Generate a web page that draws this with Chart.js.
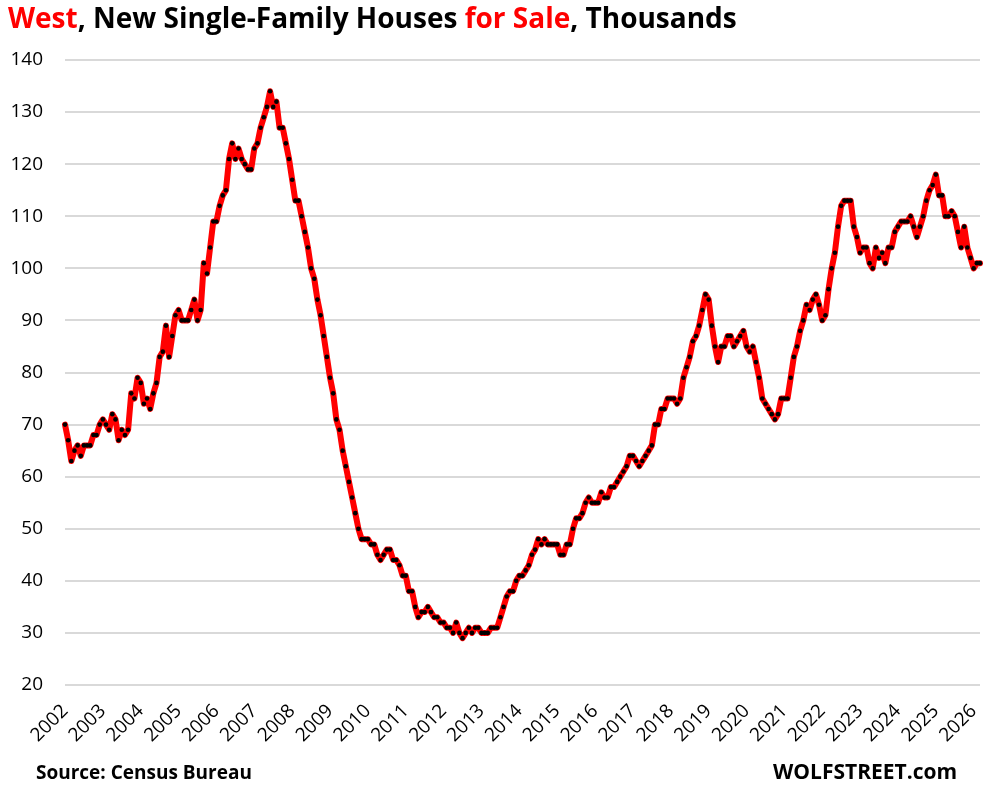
<!DOCTYPE html>
<html>
<head>
<meta charset="utf-8">
<script src="https://cdn.jsdelivr.net/npm/chart.js@4/dist/chart.umd.min.js"></script>
<style>
  html, body { margin: 0; padding: 0; background: #fff; }
  #wrap { position: relative; width: 995px; height: 801px; overflow: hidden; background: #fff; }
  #c { position: absolute; left: 0; top: 0; }
  .txt { position: absolute; font-family: "Open Sans", "DejaVu Sans", sans-serif; font-weight: 700; color: #000; white-space: nowrap; }
  #title { left: 8px; top: 3px; font-size: 28px; line-height: 28px; }
  #title .red { color: #ff0000; }
  #source { left: 36px; top: 763px; font-size: 19px; line-height: 19px; }
  #brand { left: 773px; top: 761px; font-size: 21px; line-height: 21px; }
</style>
</head>
<body>
<div id="wrap">
  <canvas id="c" width="995" height="801"></canvas>
  <div class="txt" id="title"><span class="red">West</span>, New Single-Family Houses <span class="red">for Sale</span>, Thousands</div>
  <div class="txt" id="source">Source: Census Bureau</div>
  <div class="txt" id="brand">WOLFSTREET.com</div>
</div>
<script>
// Tick labels (January of each year)
const yearLabels = ['2002','2003','2004','2005','2006','2007','2008','2009','2010','2011','2012','2013',
  '2014','2015','2016','2017','2018','2019','2020','2021','2022','2023','2024','2025','2026'];
const monthNames = ['01','02','03','04','05','06','07','08','09','10','11','12'];

// West, new single-family houses for sale, thousands (monthly, Jan 2002 - Mar 2026)
const westForSale = [
  70,67,63,65,66,64,66,66,66,68,68,70,          // 2002
  71,70,69,72,71,67,69,68,69,76,75,79,          // 2003
  78,74,75,73,76,78,83,84,89,83,87,91,          // 2004
  92,90,90,90,92,94,90,92,101,99,104,109,       // 2005
  109,112,114,115,121,124,121,123,121,120,119,119, // 2006
  123,124,127,129,131,134,131,132,127,127,124,121, // 2007
  117,113,113,110,107,104,100,98,94,91,87,83,   // 2008
  79,76,71,69,65,62,59,56,53,50,48,48,          // 2009
  48,47,47,45,44,45,46,46,44,44,43,41,          // 2010
  41,38,38,35,33,34,34,35,34,33,33,32,          // 2011
  32,31,31,30,32,30,29,30,31,30,31,31,          // 2012
  30,30,30,31,31,31,33,35,37,38,38,40,          // 2013
  41,41,42,43,45,46,48,47,48,47,47,47,          // 2014
  47,45,45,47,47,50,52,52,53,55,56,55,          // 2015
  55,55,57,56,56,58,58,59,60,61,62,64,          // 2016
  64,63,62,63,64,65,66,70,70,73,73,75,          // 2017
  75,75,74,75,79,81,83,86,87,89,92,95,          // 2018
  94,89,85,82,85,85,87,87,85,86,87,88,          // 2019
  85,84,85,82,79,75,74,73,72,71,72,75,          // 2020
  75,75,79,83,85,88,90,93,92,94,95,93,          // 2021
  90,91,96,100,103,108,112,113,113,113,108,106, // 2022
  103,104,104,101,100,104,102,103,101,104,104,107, // 2023
  108,109,109,109,110,108,106,108,110,113,115,116, // 2024
  118,114,114,110,110,111,110,107,104,108,104,102, // 2025
  100,101,101                                    // 2026
];

// Month categories built from the year labels
const monthCategories = [];
yearLabels.forEach(y => monthNames.forEach(m => monthCategories.push(y + '-' + m)));
monthCategories.length = westForSale.length;

const FONT = '"Open Sans", "DejaVu Sans", sans-serif';

new Chart(document.getElementById('c'), {
  type: 'line',
  data: {
    labels: monthCategories,
    datasets: [{
      data: westForSale,
      borderColor: '#ff0000',
      borderWidth: 6,
      borderJoinStyle: 'round',
      borderCapStyle: 'round',
      pointRadius: 2.3,
      pointBorderWidth: 0,
      pointBackgroundColor: '#000000',
      pointBorderColor: '#000000',
      tension: 0,
      clip: false
    }]
  },
  options: {
    responsive: false,
    animation: false,
    devicePixelRatio: 1,
    layout: { padding: { top: 60, right: 15, left: 0, bottom: 0 } },
    plugins: {
      legend: { display: false },
      title: { display: false },
      tooltip: { enabled: false }
    },
    scales: {
      x: {
        type: 'category',
        grid: { display: false, drawTicks: false },
        border: { display: false },
        ticks: {
          autoSkip: false,
          minRotation: 45,
          maxRotation: 45,
          padding: 15,
          color: '#000',
          font: { family: FONT, size: 19 },
          callback: function (value, index) {
            const lab = this.getLabelForValue(value);
            return lab.endsWith('-01') ? lab.slice(0, 4) : '';
          }
        },
        afterFit: function (scale) {
          scale.height = 116;
          scale.paddingRight = 0;
          scale.paddingLeft = 0;
        }
      },
      y: {
        min: 20,
        max: 140,
        grid: { color: '#d9d9d9', lineWidth: 2, drawTicks: false },
        border: { display: false },
        ticks: {
          stepSize: 10,
          padding: 22,
          color: '#000',
          font: { family: FONT, size: 19 }
        },
        afterFit: function (scale) {
          scale.width = 65;
          scale.paddingTop = 0;
          scale.paddingBottom = 0;
        }
      }
    }
  }
});
</script>
</body>
</html>
